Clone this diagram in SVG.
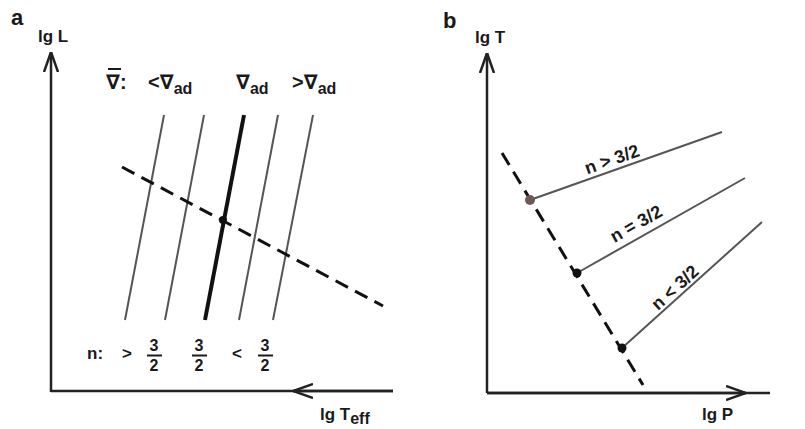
<svg xmlns="http://www.w3.org/2000/svg" width="805" height="429" viewBox="0 0 805 429">
<defs>
<style>
text{font-family:"Liberation Sans","DejaVu Sans",sans-serif;font-weight:bold;fill:#1a1a1a}
.lab{font-size:22px}
.ax{font-size:17px}
.sym{font-size:20px}
.sub{font-size:16px}
.frac{font-size:16px;text-anchor:middle}
.axis{stroke:#222;stroke-width:2.5;fill:none}
.thin{stroke:#555;stroke-width:2;fill:none}
.thick{stroke:#111;stroke-width:4;fill:none}
.dash{stroke:#111;stroke-width:3;fill:none;stroke-dasharray:14 8}
.bar{stroke:#1a1a1a;stroke-width:2}
.rot{font-size:18px;text-anchor:middle}
</style>
<marker id="ah" viewBox="0 0 20 16" refX="20" refY="8" markerWidth="20" markerHeight="16" markerUnits="userSpaceOnUse" orient="auto">
<path d="M0,1 L20,8 L0,15" fill="none" stroke="#222" stroke-width="2.5"/>
</marker>
</defs>

<g id="panel-a">
<text class="lab" x="11" y="25">a</text>
<g id="axes-a">
<line class="axis" x1="51" y1="392" x2="51" y2="52" marker-end="url(#ah)"/>
<line class="axis" x1="393" y1="391" x2="51" y2="391"/>
<line class="axis" x1="393" y1="391" x2="293" y2="391" marker-end="url(#ah)"/>
<text class="ax" x="38" y="42">lg L</text>
<text class="ax" x="320" y="420">lg T<tspan class="sub" font-size="15" dy="4">eff</tspan></text>
</g>
<g id="grad-labels">
<line class="bar" x1="108" y1="69" x2="121" y2="69"/>
<text class="sym" x="106" y="89">∇:</text>
<text class="sym" x="148" y="89">&lt;∇<tspan class="sub" dy="5">ad</tspan></text>
<text class="sym" x="236" y="89">∇<tspan class="sub" dy="5">ad</tspan></text>
<text class="sym" x="292" y="89">&gt;∇<tspan class="sub" dy="5">ad</tspan></text>
</g>
<g id="lines-a">
<line class="thin" x1="164" y1="115" x2="125" y2="320"/>
<line class="thin" x1="204" y1="115" x2="165" y2="320"/>
<line class="thick" x1="244" y1="115" x2="205" y2="320"/>
<line class="thin" x1="278" y1="115" x2="239" y2="320"/>
<line class="thin" x1="313" y1="115" x2="273" y2="320"/>
<line class="dash" x1="122" y1="167" x2="383" y2="306"/>
<circle cx="223" cy="220" r="4" fill="#111"/>
</g>
<g id="n-labels">
<text class="ax" x="87" y="359" font-size="19">n:</text>
<text class="ax" x="122" y="359" font-size="19">&gt;</text>
<text class="frac" x="154" y="351">3</text>
<line class="bar" x1="147" y1="355.5" x2="162" y2="355.5"/>
<text class="frac" x="154" y="371">2</text>
<text class="frac" x="199" y="351">3</text>
<line class="bar" x1="192" y1="355.5" x2="207" y2="355.5"/>
<text class="frac" x="199" y="371">2</text>
<text class="ax" x="232" y="359" font-size="19">&lt;</text>
<text class="frac" x="265" y="351">3</text>
<line class="bar" x1="258" y1="355.5" x2="273" y2="355.5"/>
<text class="frac" x="265" y="371">2</text>
</g>
</g>

<g id="panel-b">
<text class="lab" x="443" y="28">b</text>
<g id="axes-b">
<line class="axis" x1="487" y1="393" x2="487" y2="53" marker-end="url(#ah)"/>
<line class="axis" x1="487" y1="393" x2="770" y2="393"/>
<line class="axis" x1="487" y1="393" x2="746" y2="393" marker-end="url(#ah)"/>
<text class="ax" x="475" y="43">lg T</text>
<text class="ax" x="702" y="420">lg P</text>
</g>
<g id="lines-b">
<line class="dash" x1="502" y1="153" x2="643" y2="385" stroke-width="2.6" stroke-dasharray="15 8"/>
<line class="thin" x1="530" y1="200" x2="722" y2="132"/>
<line class="thin" x1="577" y1="273" x2="745" y2="178"/>
<line class="thin" x1="622" y1="348" x2="762" y2="222"/>
<circle cx="530" cy="200" r="5" fill="#6b5a55"/>
<circle cx="577" cy="273" r="4.5" fill="#111"/>
<circle cx="622" cy="348" r="4.5" fill="#111"/>
</g>
<text class="rot" transform="translate(614,165) rotate(-19.5)">n &gt; 3/2</text>
<text class="rot" transform="translate(639,229) rotate(-29.5)">n = 3/2</text>
<text class="rot" transform="translate(679,292) rotate(-42)">n &lt; 3/2</text>
</g>
</svg>
